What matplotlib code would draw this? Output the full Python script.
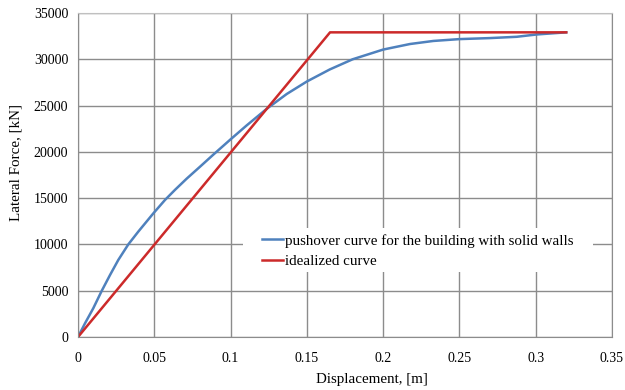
import numpy as np
import matplotlib.pyplot as plt
from matplotlib.patches import Rectangle

plt.rcParams['font.family'] = ['Liberation Serif', 'DejaVu Serif']
plt.rcParams['font.size'] = 10

# pushover curve
disp_push = [0, 0.0046, 0.010, 0.0155, 0.021, 0.0264, 0.033, 0.0395, 0.0494,
             0.057, 0.0636, 0.0712, 0.0800, 0.0887, 0.100, 0.1105, 0.1237,
             0.1368, 0.150, 0.165, 0.180, 0.200, 0.2176,
             0.2329, 0.250, 0.270, 0.2875, 0.3006, 0.320]
force_push = [0, 1480, 3100, 4970, 6700, 8320, 10010, 11380, 13360,
              14800, 15900, 17100, 18400, 19700, 21350, 22850, 24650,
              26250, 27600, 28900, 30000, 31050, 31650,
              31980, 32180, 32290, 32430, 32680, 32910]

# idealized bilinear curve
disp_ideal = [0, 0.1652, 0.320]
force_ideal = [0, 32910, 32910]

fig = plt.figure(figsize=(6.25, 3.9), dpi=100)
ax = fig.add_axes([78/625, 1-337/390, 534/625, 324/390])

ax.plot(disp_push, force_push, color='#4F81BD', lw=1.8,
        label='pushover curve for the building with solid walls')
ax.plot(disp_ideal, force_ideal, color='#CC2a2a', lw=1.8, label='idealized curve')

ax.set_xlim(0, 0.35)
ax.set_ylim(0, 35000)
ax.set_xticks(np.arange(0, 0.351, 0.05))
ax.set_xticklabels(['0', '0.05', '0.1', '0.15', '0.2', '0.25', '0.3', '0.35'])
ax.set_yticks(np.arange(0, 35001, 5000))
ax.grid(True, color='#8c8c8c', lw=1)
ax.set_axisbelow(True)
ax.tick_params(length=0)
ax.tick_params(axis='x', pad=11)
ax.tick_params(axis='y', pad=7)
for s in ax.spines.values():
    s.set_color('#8c8c8c')
ax.spines['top'].set_color('#c0c0c0')

ax.set_xlabel('Displacement, [m]', fontsize=10.8)
ax.set_ylabel('Lateral Force, [kN]', fontsize=10.8)
ax.xaxis.set_label_coords(0.55, -0.11)
ax.yaxis.set_label_coords(-0.103, 0.54)

# white legend background, wider than the entries
ax.add_patch(Rectangle((0.309, 0.2006), 0.6554, 0.1358, transform=ax.transAxes,
                       facecolor='white', edgecolor='none', zorder=1))
leg = ax.legend(loc='upper left', bbox_to_anchor=(0.3446, 0.318), borderaxespad=0,
                frameon=False, fontsize=10.8, handlelength=1.4, handletextpad=0.1,
                labelspacing=0.45, borderpad=0)

plt.savefig('out.png', dpi=100)
